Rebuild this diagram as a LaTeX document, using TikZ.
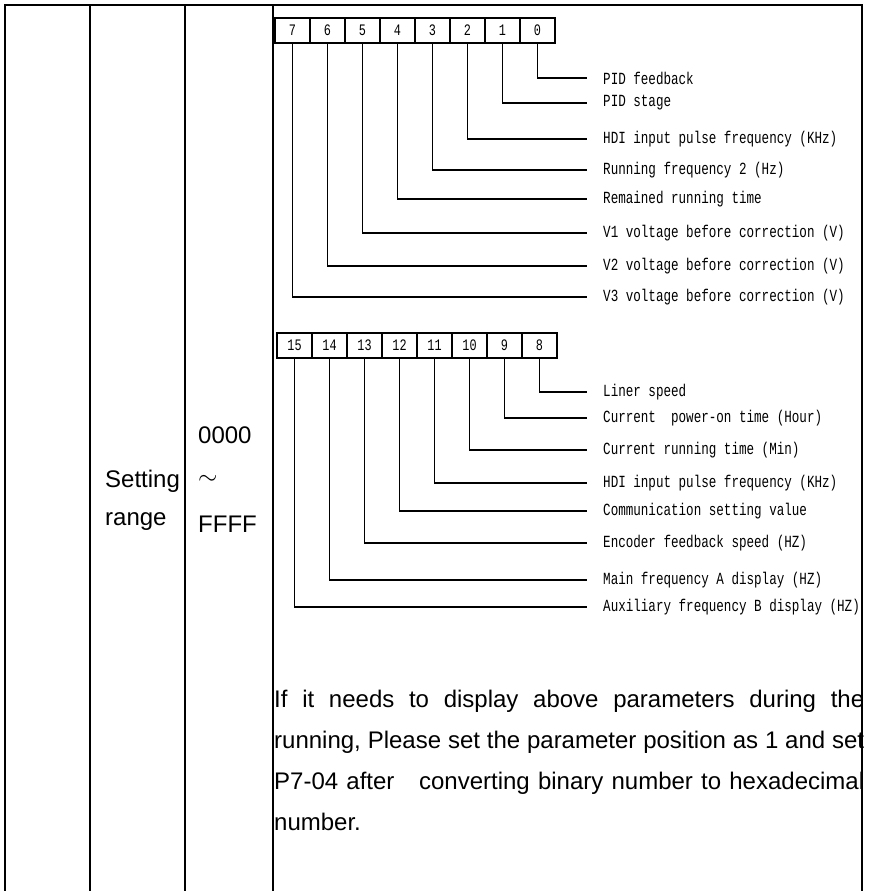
\documentclass[tikz,border=0pt]{standalone}
\usepackage{fontspec}
\usetikzlibrary{positioning}
\setmainfont{Liberation Sans}
\newfontfamily\bitfont{Liberation Mono}[FakeStretch=0.74]

\begin{document}
\begin{tikzpicture}[x=1pt, y=-1pt,
  rule/.style={line width=2pt},
  bit/.style={draw, line width=1.3pt, minimum width=35pt, minimum height=25pt, inner sep=0pt, outer sep=0pt, font=\bitfont\fontsize{16}{16}\selectfont},
  lbl/.style={anchor=west, inner xsep=16pt, inner ysep=0pt, font=\bitfont\fontsize{17}{17}\selectfont},
  wire/.style={line width=1.3pt},
  txt/.style={anchor=base west, inner sep=0pt, font=\fontsize{24}{24}\selectfont},
  note/.style={anchor=north west, inner sep=0pt, text width=590pt, align=justify, font=\fontsize{24}{41.3}\selectfont, execute at begin node={\tolerance=9999 \hyphenpenalty=10000}}]
\useasboundingbox (0,0) rectangle (870,891);
% bits 7..0
\node[bit] (b7) at (292.5,30.5) {7};
\node[bit, right=0pt of b7] (b6) {6};
\node[bit, right=0pt of b6] (b5) {5};
\node[bit, right=0pt of b5] (b4) {4};
\node[bit, right=0pt of b4] (b3) {3};
\node[bit, right=0pt of b3] (b2) {2};
\node[bit, right=0pt of b2] (b1) {1};
\node[bit, right=0pt of b1] (b0) {0};
\node[lbl] (l0) at (587,78) {PID feedback};
\node[lbl] (l1) at (587,103) {PID stage};
\node[lbl] (l2) at (587,139) {HDI input pulse frequency (KHz)};
\node[lbl] (l3) at (587,170) {Running frequency 2 (Hz)};
\node[lbl] (l4) at (587,199) {Remained running time};
\node[lbl] (l5) at (587,233) {V1 voltage before correction (V)};
\node[lbl] (l6) at (587,266) {V2 voltage before correction (V)};
\node[lbl] (l7) at (587,297) {V3 voltage before correction (V)};
\draw[wire] (b0.south) |- (l0.west);
\draw[wire] (b1.south) |- (l1.west);
\draw[wire] (b2.south) |- (l2.west);
\draw[wire] (b3.south) |- (l3.west);
\draw[wire] (b4.south) |- (l4.west);
\draw[wire] (b5.south) |- (l5.west);
\draw[wire] (b6.south) |- (l6.west);
\draw[wire] (b7.south) |- (l7.west);
% bits 15..8
\node[bit] (b15) at (294.5,345.5) {15};
\node[bit, right=0pt of b15] (b14) {14};
\node[bit, right=0pt of b14] (b13) {13};
\node[bit, right=0pt of b13] (b12) {12};
\node[bit, right=0pt of b12] (b11) {11};
\node[bit, right=0pt of b11] (b10) {10};
\node[bit, right=0pt of b10] (b9) {9};
\node[bit, right=0pt of b9] (b8) {8};
\node[lbl] (l8) at (587,392) {Liner speed};
\node[lbl] (l9) at (587,418) {Current\ \ power-on time (Hour)};
\node[lbl] (l10) at (587,450) {Current running time (Min)};
\node[lbl] (l11) at (587,483) {HDI input pulse frequency (KHz)};
\node[lbl] (l12) at (587,511) {Communication setting value};
\node[lbl] (l13) at (587,543) {Encoder feedback speed (HZ)};
\node[lbl] (l14) at (587,580) {Main frequency A display (HZ)};
\node[lbl] (l15) at (587,607) {Auxiliary frequency B display (HZ)};
\draw[wire] (b8.south) |- (l8.west);
\draw[wire] (b9.south) |- (l9.west);
\draw[wire] (b10.south) |- (l10.west);
\draw[wire] (b11.south) |- (l11.west);
\draw[wire] (b12.south) |- (l12.west);
\draw[wire] (b13.south) |- (l13.west);
\draw[wire] (b14.south) |- (l14.west);
\draw[wire] (b15.south) |- (l15.west);
% left columns and note
\node[txt] (set) at (105,487) {Setting};
\node[txt] (rng) at (105,525) {range};
\node[txt] (lo) at (198,443) {0000};
\node[txt] (sim) at (198,484) {$\sim$};
\node[txt] (hi) at (198,532) {FFFF};
\node[note] (msg) at (274,689.5) {If it needs to display above parameters during the\linebreak running, Please set the parameter position as 1 and set\linebreak P7-04 after\ \ \ converting binary number to hexadecimal\linebreak number.};
% table rules
\draw[rule] (5,891) -- (5,5) -- (862,5) -- (862,891);
\draw[rule] (90,5) -- (90,891) (185,5) -- (185,891) (273,5) -- (273,891);
\end{tikzpicture}
\end{document}
